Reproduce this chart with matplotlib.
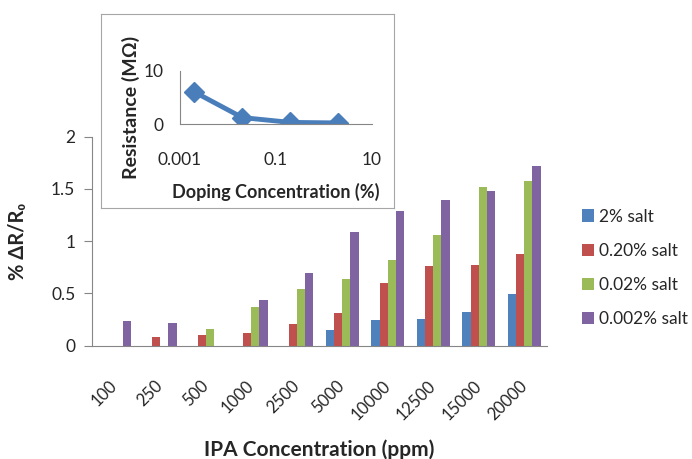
import numpy as np
import matplotlib.pyplot as plt
from matplotlib.patches import Patch
from matplotlib.ticker import FixedLocator, NullLocator

plt.rcParams['font.family'] = ['Lato', 'DejaVu Sans']

# sensor response per IPA concentration, one list per salt doping level
ipa_ppm = ['100', '250', '500', '1000', '2500', '5000', '10000', '12500', '15000', '20000']
salt_2 = [0, 0, 0, 0, 0, 0.15, 0.245, 0.255, 0.325, 0.49]
salt_020 = [0, 0.08, 0.10, 0.12, 0.21, 0.31, 0.595, 0.76, 0.775, 0.88]
salt_002 = [0, 0, 0.16, 0.37, 0.54, 0.64, 0.82, 1.06, 1.52, 1.57]
salt_0002 = [0.23, 0.22, 0, 0.44, 0.69, 1.09, 1.285, 1.39, 1.48, 1.72]
series_names = ['2% salt', '0.20% salt', '0.02% salt', '0.002% salt']
colors = ['#4F81BD', '#C0504D', '#9BBB59', '#8064A2']

# inset: film resistance vs doping
doping = [0.002, 0.02, 0.2, 2]
resistance = [6.0, 1.2, 0.3, 0.2]

txt = '#262626'
axc = '#868686'

fig = plt.figure(figsize=(6.92, 4.59), dpi=100)
W, H = 692, 459

ax = fig.add_axes([92 / W, 1 - 345.5 / H, 455 / W, (345.5 - 136.5) / H])
x = np.arange(len(ipa_ppm))
bw = 0.18
for i, vals in enumerate([salt_2, salt_020, salt_002, salt_0002]):
    ax.bar(x + (i - 1.5) * bw, vals, width=bw, color=colors[i], label=series_names[i])

ax.set_xlim(-0.5, len(ipa_ppm) - 0.5)
ax.set_ylim(0, 2)
ax.set_yticks([0, 0.5, 1, 1.5, 2])
ax.set_yticklabels(['0', '0.5', '1', '1.5', '2'])
ax.set_xticks(x)
ax.set_xticklabels(ipa_ppm, rotation=45, ha='right', va='center', rotation_mode='anchor')
for s in ['top', 'right']:
    ax.spines[s].set_visible(False)
for s in ['left', 'bottom']:
    ax.spines[s].set_color(axc)
ax.tick_params(axis='y', direction='out', length=6, color=axc, labelsize=12.5, labelcolor=txt, pad=6)
ax.tick_params(axis='x', length=0, labelsize=12, labelcolor=txt, pad=27)
ax.set_ylabel('% ΔR/R₀', fontsize=14.5, fontweight='bold', color=txt)
ax.yaxis.set_label_coords(-0.14, 0.5)
ax.set_xlabel('IPA Concentration (ppm)', fontsize=15, fontweight='bold', color=txt)
ax.xaxis.set_label_coords(0.5, -0.45)

handles = [Patch(facecolor=c) for c in colors]
fig.legend(handles, series_names, loc='upper left', bbox_to_anchor=(566 / W, 1 - 193 / H),
           frameon=False, fontsize=12.5, handlelength=0.7, handleheight=0.7,
           handletextpad=0.3, labelspacing=1.05, labelcolor=txt)

# framed inset box
box = fig.add_axes([101 / W, 1 - 208 / H, 293 / W, 194 / H])
box.set_xticks([])
box.set_yticks([])
for s in box.spines.values():
    s.set_color('#A6A6A6')

ins = fig.add_axes([180 / W, 1 - 124 / H, 192 / W, 53.3 / H])
ins.patch.set_alpha(0)
ins.plot(doping, resistance, color='#4A7EBB', lw=3.5, marker='D', ms=10)
ins.set_xscale('log')
ins.set_xlim(0.001, 10)
ins.set_ylim(0, 10)
ins.xaxis.set_major_locator(FixedLocator([0.001, 0.1, 10]))
ins.xaxis.set_minor_locator(NullLocator())
ins.set_xticklabels(['0.001', '0.1', '10'])
ins.set_yticks([0, 10])
ins.set_yticklabels(['0', '10'])
for s in ['top', 'right']:
    ins.spines[s].set_visible(False)
for s in ['left', 'bottom']:
    ins.spines[s].set_color(axc)
ins.tick_params(axis='x', length=0, labelsize=12.5, labelcolor=txt, pad=20)
ins.tick_params(axis='y', length=0, labelsize=12.5, labelcolor=txt, pad=12)
ins.set_xlabel('Doping Concentration (%)', fontsize=13, fontweight='bold', color=txt)
ins.xaxis.set_label_coords(0.5, -1.1)
ins.set_ylabel('Resistance (MΩ)', fontsize=14, fontweight='bold', color=txt)
ins.yaxis.set_label_coords(-0.21, 0.32)

fig.savefig('out.png', dpi=100)
